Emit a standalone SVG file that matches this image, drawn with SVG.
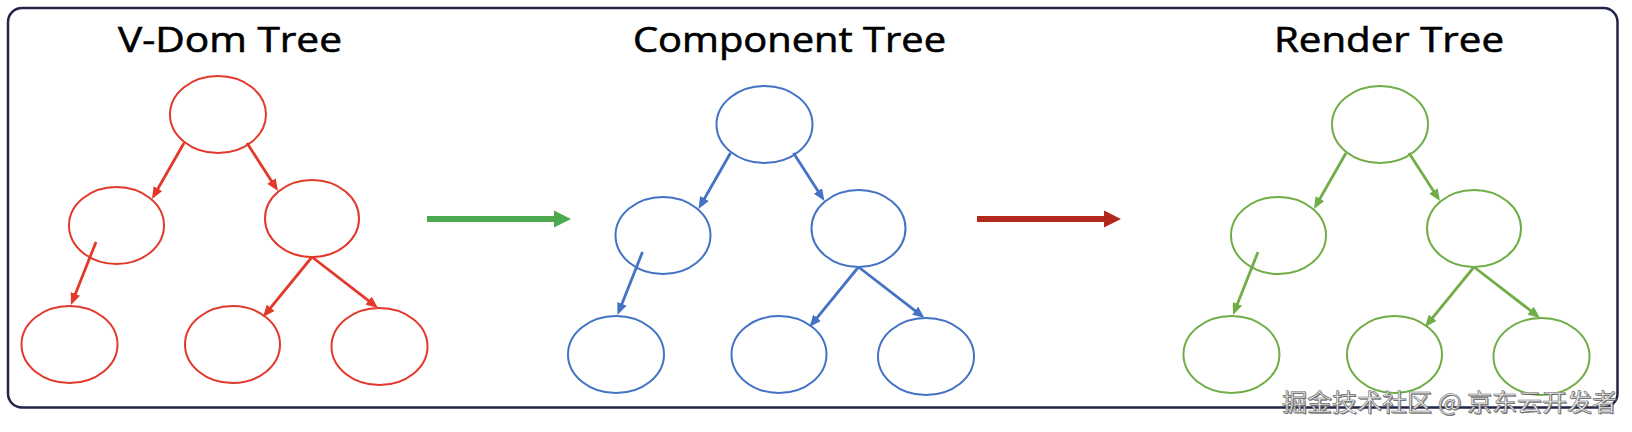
<svg xmlns="http://www.w3.org/2000/svg" width="1632" height="432" viewBox="0 0 1632 432">
  <style>
    .title { font-family: "Open Sans", "Liberation Sans", sans-serif; font-size: 34px; font-weight: 500; fill: #000000; stroke: #000000; stroke-width: 0.6; }
    .node { fill: none; stroke-width: 2; }
    .edge { fill: none; stroke-width: 2.8; stroke-linecap: butt; }
    .red .node, .red .edge { stroke: #E2392B; }
    .blue .node, .blue .edge { stroke: #4472C4; }
    .green .node, .green .edge { stroke: #70AD47; }
    .red .edge { marker-end: url(#headRed); }
    .blue .edge { marker-end: url(#headBlue); }
    .green .edge { marker-end: url(#headGreen); }
    .wm { font-family: "Noto Sans CJK SC", "Liberation Sans", sans-serif; font-size: 24px; }
  </style>
  <defs>
    <marker id="headRed" viewBox="0 0 12 10" markerWidth="12" markerHeight="10" markerUnits="userSpaceOnUse" refX="6" refY="5" orient="auto">
      <path d="M0,0 L12,5 L0,10 Z" fill="#E2392B"/>
    </marker>
    <marker id="headBlue" viewBox="0 0 12 10" markerWidth="12" markerHeight="10" markerUnits="userSpaceOnUse" refX="6" refY="5" orient="auto">
      <path d="M0,0 L12,5 L0,10 Z" fill="#4472C4"/>
    </marker>
    <marker id="headGreen" viewBox="0 0 12 10" markerWidth="12" markerHeight="10" markerUnits="userSpaceOnUse" refX="6" refY="5" orient="auto">
      <path d="M0,0 L12,5 L0,10 Z" fill="#70AD47"/>
    </marker>
  </defs>

  <rect width="1632" height="432" fill="#ffffff"/>
  <rect id="frame" x="8" y="8" width="1609.5" height="399.5" rx="14" ry="14" fill="none" stroke="#23264A" stroke-width="2.5"/>

  <text class="title" x="118" y="52" textLength="224" lengthAdjust="spacingAndGlyphs">V-Dom Tree</text>
  <text class="title" x="633" y="52" textLength="313" lengthAdjust="spacingAndGlyphs">Component Tree</text>
  <text class="title" x="1274" y="52" textLength="230" lengthAdjust="spacingAndGlyphs">Render Tree</text>

  <!-- V-Dom tree -->
  <g id="vdom-tree" class="red">
    <g id="vdom-root"><ellipse class="node" cx="218" cy="114.5" rx="48" ry="38.5"/></g>
    <g id="vdom-mid-left"><ellipse class="node" cx="116.5" cy="225.5" rx="47.5" ry="38.5"/></g>
    <g id="vdom-mid-right"><ellipse class="node" cx="312" cy="218.5" rx="47" ry="38.5"/></g>
    <g id="vdom-bottom-left"><ellipse class="node" cx="69.5" cy="344.5" rx="48" ry="38.5"/></g>
    <g id="vdom-bottom-mid"><ellipse class="node" cx="232.5" cy="344.5" rx="47.5" ry="38.5"/></g>
    <g id="vdom-bottom-right"><ellipse class="node" cx="379.5" cy="346.5" rx="48" ry="38.5"/></g>
    <g id="vdom-connectors">
      <line class="edge" x1="184" y1="143" x2="155" y2="193.8"/>
      <line class="edge" x1="247" y1="143" x2="274.7" y2="186"/>
      <line class="edge" x1="96" y1="242" x2="73.2" y2="299.4"/>
      <line class="edge" x1="312" y1="257" x2="266.8" y2="312.4"/>
      <line class="edge" x1="312" y1="257" x2="373.3" y2="304.3"/>
    </g>
  </g>

  <!-- Component tree -->
  <g id="component-tree" class="blue" transform="translate(546.5,10)">
    <g id="comp-root"><ellipse class="node" cx="218" cy="114.5" rx="48" ry="38.5"/></g>
    <g id="comp-mid-left"><ellipse class="node" cx="116.5" cy="225.5" rx="47.5" ry="38.5"/></g>
    <g id="comp-mid-right"><ellipse class="node" cx="312" cy="218.5" rx="47" ry="38.5"/></g>
    <g id="comp-bottom-left"><ellipse class="node" cx="69.5" cy="344.5" rx="48" ry="38.5"/></g>
    <g id="comp-bottom-mid"><ellipse class="node" cx="232.5" cy="344.5" rx="47.5" ry="38.5"/></g>
    <g id="comp-bottom-right"><ellipse class="node" cx="379.5" cy="346.5" rx="48" ry="38.5"/></g>
    <g id="comp-connectors">
      <line class="edge" x1="184" y1="143" x2="155" y2="193.8"/>
      <line class="edge" x1="247" y1="143" x2="274.7" y2="186"/>
      <line class="edge" x1="96" y1="242" x2="73.2" y2="299.4"/>
      <line class="edge" x1="312" y1="257" x2="266.8" y2="312.4"/>
      <line class="edge" x1="312" y1="257" x2="373.3" y2="304.3"/>
    </g>
  </g>

  <!-- Render tree -->
  <g id="render-tree" class="green" transform="translate(1162,10)">
    <g id="render-root"><ellipse class="node" cx="218" cy="114.5" rx="48" ry="38.5"/></g>
    <g id="render-mid-left"><ellipse class="node" cx="116.5" cy="225.5" rx="47.5" ry="38.5"/></g>
    <g id="render-mid-right"><ellipse class="node" cx="312" cy="218.5" rx="47" ry="38.5"/></g>
    <g id="render-bottom-left"><ellipse class="node" cx="69.5" cy="344.5" rx="48" ry="38.5"/></g>
    <g id="render-bottom-mid"><ellipse class="node" cx="232.5" cy="344.5" rx="47.5" ry="38.5"/></g>
    <g id="render-bottom-right"><ellipse class="node" cx="379.5" cy="346.5" rx="48" ry="38.5"/></g>
    <g id="render-connectors">
      <line class="edge" x1="184" y1="143" x2="155" y2="193.8"/>
      <line class="edge" x1="247" y1="143" x2="274.7" y2="186"/>
      <line class="edge" x1="96" y1="242" x2="73.2" y2="299.4"/>
      <line class="edge" x1="312" y1="257" x2="266.8" y2="312.4"/>
      <line class="edge" x1="312" y1="257" x2="373.3" y2="304.3"/>
    </g>
  </g>

  <!-- transition arrows -->
  <g id="transition-connectors">
    <path id="arrow-vdom-to-comp" d="M427,216 H554 V210.5 L571,219 L554,227.5 V222 H427 Z" fill="#4CA950"/>
    <path id="arrow-comp-to-render" d="M977,216 H1104 V210.5 L1121,219 L1104,227.5 V222 H977 Z" fill="#B3271D"/>
  </g>

  <!-- watermark -->
  <text class="wm" x="1283" y="412" textLength="335" lengthAdjust="spacingAndGlyphs" fill="#444444" opacity="0.7">掘金技术社区 @ 京东云开发者</text>
  <text class="wm" x="1282" y="411" textLength="335" lengthAdjust="spacingAndGlyphs" fill="#EEEEEE" stroke="#6A6A6A" stroke-width="0.6">掘金技术社区 @ 京东云开发者</text>
</svg>
